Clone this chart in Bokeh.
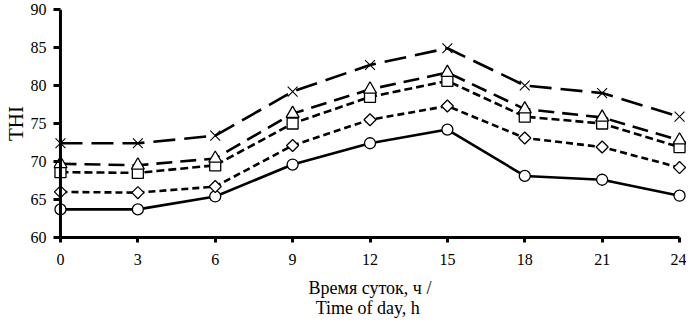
import numpy as np
from bokeh.plotting import figure
from bokeh.models import Range1d, FixedTicker, Span
from bokeh.embed import file_html
from bokeh.resources import INLINE

# Data
hours = [0, 3, 6, 9, 12, 15, 18, 21, 24]
thi_circle = [63.7, 63.7, 65.4, 69.6, 72.4, 74.2, 68.1, 67.6, 65.5]
thi_diamond = [66.0, 65.9, 66.7, 72.1, 75.5, 77.3, 73.1, 71.9, 69.2]
thi_square = [68.6, 68.5, 69.5, 75.0, 78.5, 80.6, 75.9, 75.0, 71.9]
thi_triangle = [69.7, 69.5, 70.4, 76.3, 79.5, 81.7, 76.9, 75.8, 72.8]
thi_cross = [72.4, 72.4, 73.4, 79.2, 82.7, 84.9, 80.0, 79.0, 75.9]
x_ticks = [0, 3, 6, 9, 12, 15, 18, 21, 24]
y_ticks = [60, 65, 70, 75, 80, 85, 90]

FONT = "Liberation Serif"
PAD = 0.27  # hours of padding so end markers are not clipped

p = figure(width=686, height=320, output_backend="svg", toolbar_location=None,
           x_range=Range1d(-PAD, 24 + PAD), y_range=Range1d(60, 90),
           min_border_top=9, min_border_right=0, min_border_left=0, min_border_bottom=0)
p.outline_line_color = None
p.grid.grid_line_color = None
p.background_fill_color = "white"
p.border_fill_color = "white"

# x axis
xa = p.xaxis[0]
xa.ticker = FixedTicker(ticks=x_ticks)
xa.bounds = (0, 24)
xa.axis_line_width = 3
xa.axis_line_color = "black"
xa.major_tick_line_width = 3
xa.major_tick_out = 5
xa.major_tick_in = 0
xa.minor_tick_line_color = None
xa.major_label_text_font = FONT
xa.major_label_text_font_size = "16px"
xa.major_label_text_color = "black"
xa.major_label_standoff = 11
xa.axis_label = "Время суток, ч /\nTime of  day, h"
xa.axis_label_text_font = FONT
xa.axis_label_text_font_size = "18px"
xa.axis_label_text_font_style = "normal"
xa.axis_label_text_color = "black"
xa.axis_label_text_line_height = 1.0
xa.axis_label_standoff = 10

# y axis
ya = p.yaxis[0]
ya.ticker = FixedTicker(ticks=y_ticks)
ya.axis_line_color = None
ya.major_tick_line_width = 3
ya.major_tick_line_color = "black"
ya.major_tick_out = 0
ya.major_tick_in = 7
ya.minor_tick_line_color = None
ya.major_label_text_font = FONT
ya.major_label_text_font_size = "16px"
ya.major_label_text_color = "black"
ya.major_label_standoff = 7
ya.axis_label = "THI"
ya.axis_label_text_font = FONT
ya.axis_label_text_font_size = "21px"
ya.axis_label_text_font_style = "normal"
ya.axis_label_text_color = "black"
ya.axis_label_standoff = 0

p.add_layout(Span(location=0, dimension="height", line_color="black", line_width=3))

LW = 2.6
# circle series (solid)
p.line(hours, thi_circle, line_color="black", line_width=LW)
p.scatter(hours, thi_circle, marker="circle", size=11, fill_color="white",
          line_color="black", line_width=1.3)
# diamond series (short dash)
p.line(hours, thi_diamond, line_color="black", line_width=LW, line_dash="7 4")
p.scatter(hours, thi_diamond, marker="square", angle=np.pi / 4, size=8.5,
          fill_color="white", line_color="black", line_width=1.3)
# square series (short dash)
p.line(hours, thi_square, line_color="black", line_width=LW, line_dash="8 4")
p.scatter(hours, thi_square, marker="square", size=11, fill_color="white",
          line_color="black", line_width=1.3)
# triangle series (dash)
p.line(hours, thi_triangle, line_color="black", line_width=LW, line_dash="16 8")
p.scatter(hours, thi_triangle, marker="triangle", size=13, fill_color="white",
          line_color="black", line_width=1.3)
# cross series (long dash)
p.line(hours, thi_cross, line_color="black", line_width=LW, line_dash="22 9")
p.scatter(hours, thi_cross, marker="x", size=14, line_color="black", line_width=1.1)

open("out.html", "w").write(file_html(p, INLINE))
